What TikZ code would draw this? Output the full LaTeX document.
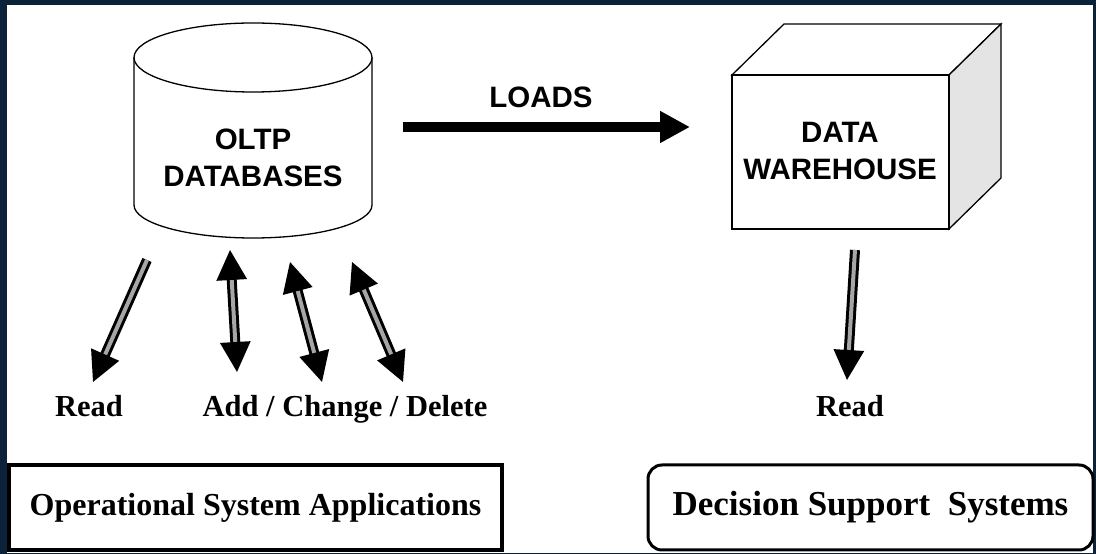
\documentclass[tikz,border=0pt]{standalone}
\usepackage{fontspec}
\setmainfont{Liberation Serif}
\setsansfont{Liberation Sans}
\usetikzlibrary{arrows.meta, positioning}
\definecolor{frameblue}{HTML}{0B2238}
\definecolor{sidegray}{HTML}{E4E4E4}

\begin{document}
\begin{tikzpicture}[x=1pt, y=1pt,
    boldsans/.style={font=\sffamily\bfseries\fontsize{29.5}{37}\selectfont, align=center},
    lbl/.style={font=\bfseries\fontsize{30.5}{36}\selectfont, anchor=base},
    sysbox/.style={draw, line width=3.5pt, minimum height=85pt, font=\bfseries\fontsize{32}{38}\selectfont},
    rwarrow/.style={line width=3pt, double=gray!70, double distance=4pt}]
    \fill[frameblue] (0,0) rectangle (1096,554);
    \fill[white] (7,1) rectangle (1093,549);

    % OLTP cylinder
    \draw[line width=1.3pt] (134,496.5) -- (134,349) arc[start angle=180, end angle=360, x radius=119, y radius=33] -- (372,496.5);
    \draw[line width=1.3pt] (253,496.5) ellipse [x radius=119, y radius=34.5];
    \node[boldsans] (db) at (253,396) {OLTP\\DATABASES};

    % warehouse cube
    \draw[line width=1.3pt] (732,479) -- (784,530) -- (1001,530) -- (949,479) -- cycle;
    \draw[line width=1.3pt, fill=sidegray] (949,479) -- (1001,530) -- (1001,376) -- (949,325) -- cycle;
    \draw[line width=1.3pt, fill=white] (732,325) rectangle (949,479);
    \node[boldsans] (dw) at (840,403) {DATA\\WAREHOUSE};

    % loads
    \coordinate (ldfrom) at (403,427);
    \coordinate (ldto) at (690,427);
    \draw[line width=10pt, -{Triangle[length=30pt, width=30pt]}] (ldfrom) -- (ldto);
    \node[boldsans] (loads) at (541,457) {LOADS};

    % operational arrows
    \coordinate (rda) at (147,294);  \coordinate (rdb) at (93,172);
    \coordinate (aca) at (230,304);  \coordinate (acb) at (237,182);
    \coordinate (cha) at (290,292);  \coordinate (chb) at (322,172);
    \coordinate (dla) at (352,292);  \coordinate (dlb) at (403,172);
    \draw[rwarrow, -{Triangle[length=30pt, width=30pt]}] (rda) -- (rdb);
    \draw[rwarrow, {Triangle[length=30pt, width=30pt]}-{Triangle[length=30pt, width=30pt]}] (aca) -- (acb);
    \draw[rwarrow, {Triangle[length=30pt, width=30pt]}-{Triangle[length=30pt, width=30pt]}] (cha) -- (chb);
    \draw[rwarrow, {Triangle[length=30pt, width=30pt]}-{Triangle[length=30pt, width=30pt]}] (dla) -- (dlb);
    \node[lbl] (rdop) at (89,137) {Read};
    \node[lbl] (acd) at (345,137) {Add / Change / Delete};

    % decision support arrow
    \coordinate (dsa) at (855,304);  \coordinate (dsb) at (847,174);
    \draw[rwarrow, -{Triangle[length=30pt, width=30pt]}] (dsa) -- (dsb);
    \node[lbl] (rddw) at (850,137) {Read};

    % system boxes
    \node[sysbox, minimum width=493pt] (osa) at (255.5,46.5) {Operational System Applications};
    \node[sysbox, minimum width=445pt, line width=3pt, rounded corners=14pt,
          font=\bfseries\fontsize{35}{40}\selectfont] (dss) at (870.5,46.5) {Decision Support\ \ Systems};
\end{tikzpicture}
\end{document}
